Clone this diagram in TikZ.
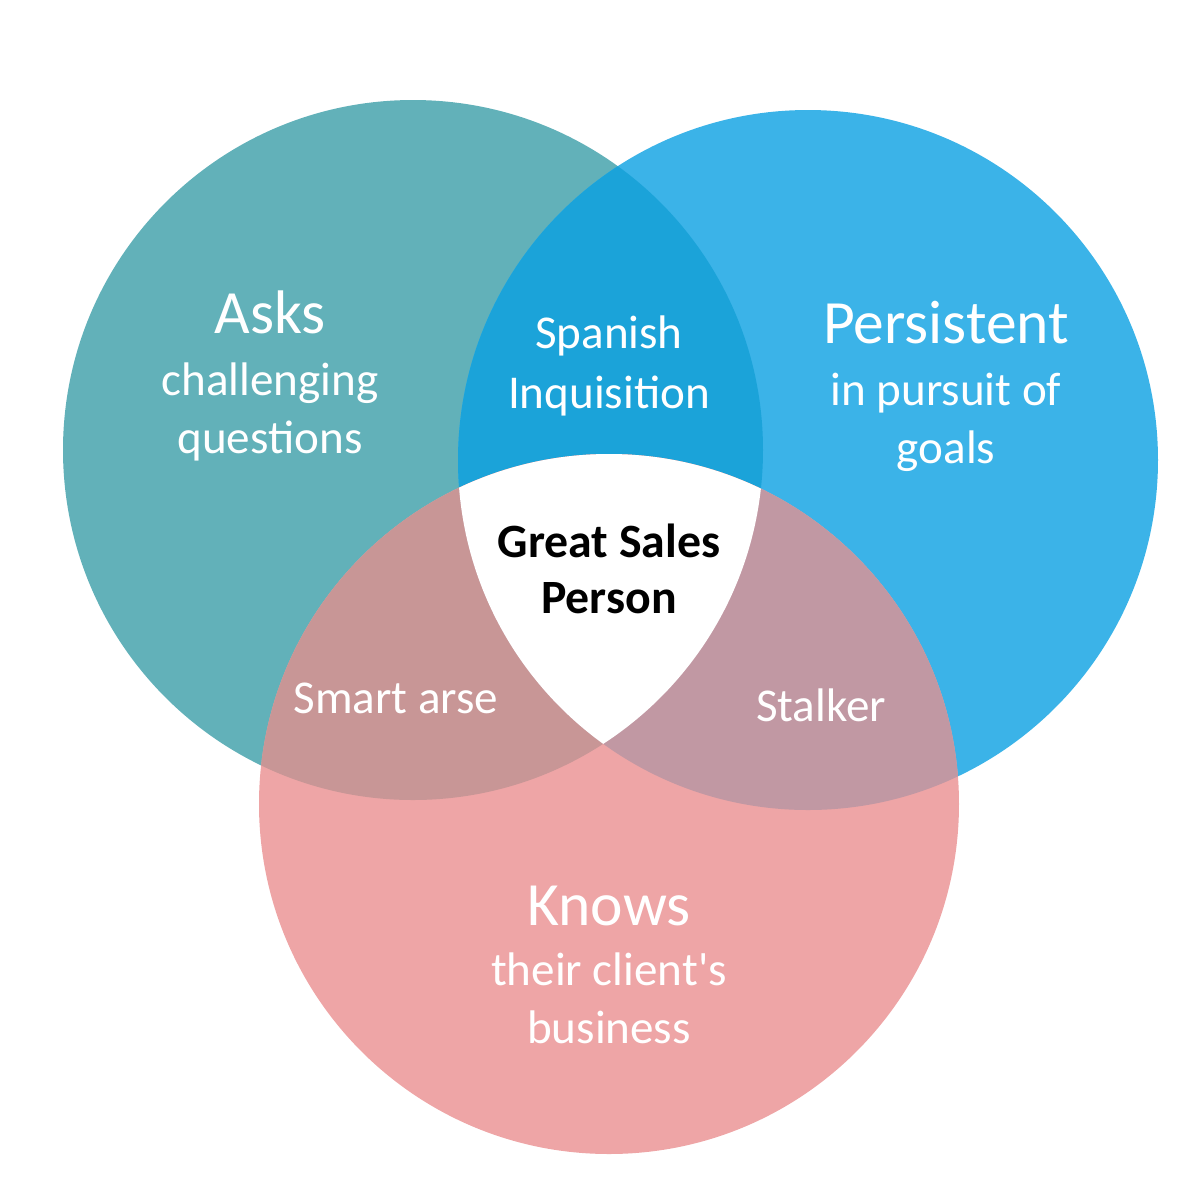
\documentclass[tikz,border=0pt]{standalone}
\usepackage{fontspec}
\setmainfont{Carlito}
\definecolor{asksteal}{RGB}{98,177,185}
\definecolor{persistblue}{RGB}{59,179,232}
\definecolor{knowspink}{RGB}{238,165,166}
\definecolor{inquisition}{RGB}{27,163,217}
\definecolor{smartarse}{RGB}{200,150,150}
\definecolor{stalker}{RGB}{193,152,163}
\newcommand{\vennrad}{3.5}

\tikzset{
  heading/.style={text=white, inner sep=0pt, anchor=base,
                  font=\fontsize{17.5}{21}\selectfont},
  subline/.style={text=white, inner sep=0pt, anchor=base,
                  font=\fontsize{13.4}{16}\selectfont},
  core/.style={text=black, inner sep=0pt, anchor=base,
               font=\bfseries\fontsize{13.6}{16}\selectfont}
}

\begin{document}
\begin{tikzpicture}
\useasboundingbox (0,0) rectangle (12,-12);

\coordinate (asks) at (4.13,-4.50);
\coordinate (persist) at (8.08,-4.60);
\coordinate (knows) at (6.09,-8.04);

% the three circles
\fill[asksteal] (asks) circle (\vennrad);
\fill[persistblue] (persist) circle (\vennrad);
\fill[knowspink] (knows) circle (\vennrad);

% pairwise overlaps
\begin{scope}
    \clip (asks) circle (\vennrad);
    \fill[inquisition] (persist) circle (\vennrad);
    \fill[smartarse] (knows) circle (\vennrad);
\end{scope}
\begin{scope}
    \clip (persist) circle (\vennrad);
    \fill[stalker] (knows) circle (\vennrad);
\end{scope}

% centre
\begin{scope}
    \clip (asks) circle (\vennrad);
    \clip (persist) circle (\vennrad);
    \fill[white] (knows) circle (\vennrad);
\end{scope}

% labels
\node[heading] (asks1) at (2.70,-3.33) {Asks};
\node[subline] (asks2) at (2.70,-3.95) {challenging};
\node[subline] (asks3) at (2.70,-4.53) {questions};

\node[heading] (pers1) at (9.46,-3.43) {Persistent};
\node[subline] (pers2) at (9.46,-4.05) {in pursuit of};
\node[subline] (pers3) at (9.46,-4.63) {goals};

\node[heading] (know1) at (6.09,-9.25) {Knows};
\node[subline] (know2) at (6.09,-9.85) {their client\textquotesingle s};
\node[subline] (know3) at (6.09,-10.43) {business};

\node[subline] (span1) at (6.09,-3.48) {Spanish};
\node[subline] (span2) at (6.09,-4.08) {Inquisition};

\node[subline] (smart) at (3.96,-7.13) {Smart arse};
\node[subline] (stalk) at (8.21,-7.21) {Stalker};

\node[core] (great1) at (6.09,-5.57) {Great Sales};
\node[core] (great2) at (6.09,-6.13) {Person};
\end{tikzpicture}
\end{document}
